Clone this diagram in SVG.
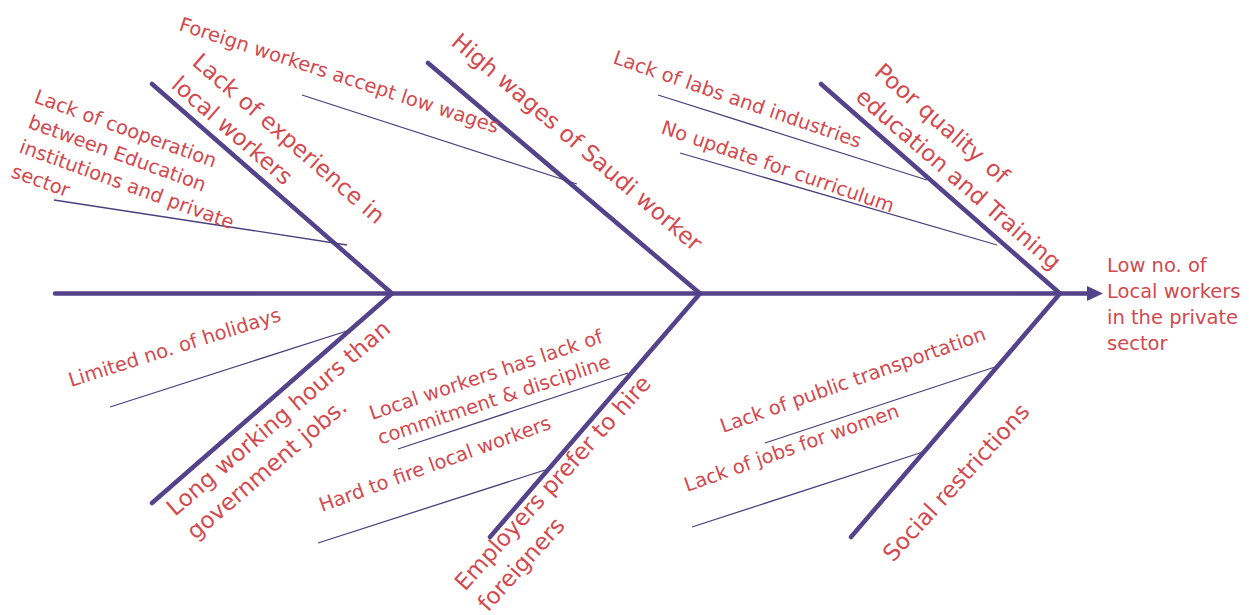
<svg xmlns="http://www.w3.org/2000/svg" width="1249" height="615" viewBox="0 0 1249 615">
<style>
.t{font-family:"DejaVu Sans","Liberation Sans",sans-serif;fill:#d24a50}
.s{font-size:19.5px}
.m{font-size:23px}
.bone{stroke:#54428a;stroke-width:4.5;stroke-linecap:round;fill:none}
.thin{stroke:#4b3f7e;stroke-width:1.3;fill:none}
</style>
<rect width="1249" height="615" fill="#ffffff"/>
<g id="connectors">
<line class="bone" x1="55" y1="293.5" x2="1090" y2="293.5"/>
<polygon points="1087,286 1103,293.5 1087,301" fill="#54428a"/>
<line class="bone" x1="152" y1="84" x2="392" y2="293.5"/>
<line class="bone" x1="428" y1="63" x2="700" y2="293.5"/>
<line class="bone" x1="821" y1="84" x2="1060" y2="293.5"/>
<line class="bone" x1="392" y1="293.5" x2="152" y2="503"/>
<line class="bone" x1="700" y1="293.5" x2="490" y2="537"/>
<line class="bone" x1="1060" y1="293.5" x2="851" y2="537"/>
<line class="thin" x1="54" y1="200" x2="347" y2="245"/>
<line class="thin" x1="302" y1="95" x2="577" y2="184"/>
<line class="thin" x1="658" y1="95" x2="927" y2="180"/>
<line class="thin" x1="680" y1="153" x2="997" y2="245"/>
<line class="thin" x1="110" y1="407" x2="350" y2="330"/>
<line class="thin" x1="398" y1="449" x2="628" y2="373"/>
<line class="thin" x1="318" y1="543" x2="545" y2="470"/>
<line class="thin" x1="765" y1="443" x2="995" y2="367"/>
<line class="thin" x1="692" y1="527" x2="923" y2="452"/>
</g>
<g id="cooperation"><text class="t s" transform="translate(33,102) rotate(20)"><tspan x="0" y="0">Lack of cooperation</tspan><tspan x="3" y="26">between Education</tspan><tspan x="3" y="52">institutions and private</tspan><tspan x="4" y="78">sector</tspan></text></g>
<g id="foreign-low-wages"><text class="t s" transform="translate(178,30) rotate(18)">Foreign workers accept low wages</text></g>
<g id="lack-experience"><text class="t m" transform="translate(191,64) rotate(41)"><tspan x="0" y="0">Lack of experience in</tspan><tspan x="-1" y="31">local workers</tspan></text></g>
<g id="high-wages"><text class="t m" transform="translate(450,44) rotate(40.5)">High wages of Saudi worker</text></g>
<g id="labs"><text class="t s" transform="translate(612,63) rotate(19)">Lack of labs and industries</text></g>
<g id="curriculum"><text class="t s" transform="translate(660,133) rotate(19)">No update for curriculum</text></g>
<g id="poor-quality"><text class="t m" transform="translate(873,74) rotate(41)"><tspan x="0" y="0">Poor quality</tspan><tspan dx="10">of</tspan><tspan x="2" y="31">education and Training</tspan></text></g>
<g id="effect"><text class="t s"><tspan x="1107" y="272">Low no. of</tspan><tspan x="1107" y="298">Local workers</tspan><tspan x="1107" y="324">in the private</tspan><tspan x="1107" y="350">sector</tspan></text></g>
<g id="holidays"><text class="t s" transform="translate(71,387) rotate(-17.5)">Limited no. of holidays</text></g>
<g id="long-hours"><text class="t m" transform="translate(175,517) rotate(-40.6)"><tspan x="0" y="0">Long working hours than</tspan><tspan x="0" y="31">government jobs.</tspan></text></g>
<g id="commitment"><text class="t s" transform="translate(372,420) rotate(-18.5)"><tspan x="0" y="0">Local workers has lack of</tspan><tspan x="0" y="26">commitment &amp; discipline</tspan></text></g>
<g id="hard-fire"><text class="t s" transform="translate(322,512) rotate(-20)">Hard to fire local workers</text></g>
<g id="employers"><text class="t m" transform="translate(465,592) rotate(-48)"><tspan x="0" y="0">Employers prefer to hire</tspan><tspan x="0" y="31">foreigners</tspan></text></g>
<g id="transport"><text class="t s" transform="translate(723,433) rotate(-19.5)">Lack of public transportation</text></g>
<g id="jobs-women"><text class="t s" transform="translate(687,492) rotate(-19.5)">Lack of jobs for women</text></g>
<g id="social"><text class="t m" transform="translate(893,563) rotate(-47.5)">Social restrictions</text></g>
</svg>
